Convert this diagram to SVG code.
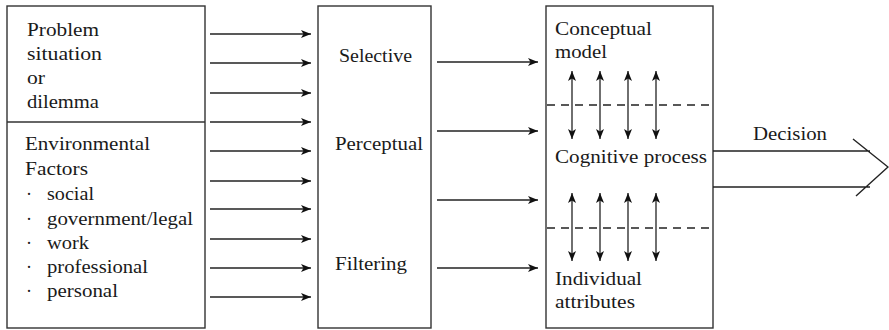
<svg xmlns="http://www.w3.org/2000/svg" width="889" height="330" viewBox="0 0 889 330">
<style>
text{font-family:"Liberation Serif","Times New Roman",serif;font-size:18px;fill:#1a1a1a}
.box{fill:none;stroke:#333;stroke-width:1.4}
.ln{stroke:#222;stroke-width:1.4;fill:none}
.ar{stroke:#222;stroke-width:1.4;fill:none;marker-end:url(#ah)}
.dar{stroke:#222;stroke-width:1.3;fill:none;marker-end:url(#ah);marker-start:url(#ahs)}
.dash{stroke:#222;stroke-width:1.3;stroke-dasharray:8 6;fill:none}
</style>
<defs>
<marker id="ah" viewBox="0 0 10 8" refX="10" refY="4" markerWidth="10" markerHeight="8" markerUnits="userSpaceOnUse" orient="auto">
<path d="M0,0 L10,4 L0,8 L2.5,4 Z" fill="#111"/>
</marker>
<marker id="ahs" viewBox="0 0 10 8" refX="0" refY="4" markerWidth="10" markerHeight="8" markerUnits="userSpaceOnUse" orient="auto">
<path d="M10,0 L0,4 L10,8 L7.5,4 Z" fill="#111"/>
</marker>
</defs>

<g id="inputs">
<rect class="box" x="7" y="6" width="198" height="322"/>
<line class="box" x1="7" y1="122" x2="205" y2="122"/>
<text x="27" y="36" textLength="72" lengthAdjust="spacingAndGlyphs">Problem</text>
<text x="27" y="60" textLength="75" lengthAdjust="spacingAndGlyphs">situation</text>
<text x="27" y="84" textLength="18" lengthAdjust="spacingAndGlyphs">or</text>
<text x="27" y="108" textLength="72" lengthAdjust="spacingAndGlyphs">dilemma</text>
<text x="25" y="150" textLength="125" lengthAdjust="spacingAndGlyphs">Environmental</text>
<text x="25" y="175" textLength="63" lengthAdjust="spacingAndGlyphs">Factors</text>
<text x="26" y="200">·</text>
<text x="47" y="200" textLength="47" lengthAdjust="spacingAndGlyphs">social</text>
<text x="26" y="225">·</text>
<text x="47" y="225" textLength="146" lengthAdjust="spacingAndGlyphs">government/legal</text>
<text x="26" y="249">·</text>
<text x="47" y="249" textLength="42" lengthAdjust="spacingAndGlyphs">work</text>
<text x="26" y="273">·</text>
<text x="47" y="273" textLength="101" lengthAdjust="spacingAndGlyphs">professional</text>
<text x="26" y="297">·</text>
<text x="47" y="297" textLength="71" lengthAdjust="spacingAndGlyphs">personal</text>
</g>

<g id="filter">
<rect class="box" x="318" y="6" width="113" height="322"/>
<text x="339" y="62" textLength="73" lengthAdjust="spacingAndGlyphs">Selective</text>
<text x="335" y="150" textLength="88" lengthAdjust="spacingAndGlyphs">Perceptual</text>
<text x="335" y="270" textLength="72" lengthAdjust="spacingAndGlyphs">Filtering</text>
</g>

<g id="cognition">
<rect class="box" x="546" y="6" width="167" height="322"/>
<text x="555" y="35" textLength="97" lengthAdjust="spacingAndGlyphs">Conceptual</text>
<text x="555" y="58" textLength="52" lengthAdjust="spacingAndGlyphs">model</text>
<text x="555" y="163" textLength="152" lengthAdjust="spacingAndGlyphs">Cognitive process</text>
<text x="555" y="285" textLength="87" lengthAdjust="spacingAndGlyphs">Individual</text>
<text x="555" y="308" textLength="80" lengthAdjust="spacingAndGlyphs">attributes</text>
<line class="dash" x1="547" y1="105" x2="713" y2="105"/>
<line class="dash" x1="547" y1="228" x2="713" y2="228"/>
</g>

<g id="decision">
<path class="ln" d="M713,151 L870,151 M713,187 L870,187 M853,139 L888,167 L856,196"/>
<text x="753" y="140" textLength="74" lengthAdjust="spacingAndGlyphs">Decision</text>
</g>

<g id="connectors">
<line class="ar" x1="210" y1="34" x2="311" y2="34"/>
<line class="ar" x1="210" y1="63" x2="311" y2="63"/>
<line class="ar" x1="210" y1="93" x2="311" y2="93"/>
<line class="ar" x1="210" y1="122" x2="311" y2="122"/>
<line class="ar" x1="210" y1="151" x2="311" y2="151"/>
<line class="ar" x1="210" y1="181" x2="311" y2="181"/>
<line class="ar" x1="210" y1="209" x2="311" y2="209"/>
<line class="ar" x1="210" y1="239" x2="311" y2="239"/>
<line class="ar" x1="210" y1="268" x2="311" y2="268"/>
<line class="ar" x1="210" y1="297" x2="311" y2="297"/>
<line class="ar" x1="437" y1="62" x2="538" y2="62"/>
<line class="ar" x1="437" y1="131" x2="538" y2="131"/>
<line class="ar" x1="437" y1="200" x2="538" y2="200"/>
<line class="ar" x1="437" y1="268" x2="538" y2="268"/>
<line class="dar" x1="572" y1="71" x2="572" y2="139"/>
<line class="dar" x1="600" y1="71" x2="600" y2="139"/>
<line class="dar" x1="628" y1="71" x2="628" y2="139"/>
<line class="dar" x1="656" y1="71" x2="656" y2="139"/>
<line class="dar" x1="572" y1="193" x2="572" y2="261"/>
<line class="dar" x1="600" y1="193" x2="600" y2="261"/>
<line class="dar" x1="628" y1="193" x2="628" y2="261"/>
<line class="dar" x1="656" y1="193" x2="656" y2="261"/>
</g>
</svg>
